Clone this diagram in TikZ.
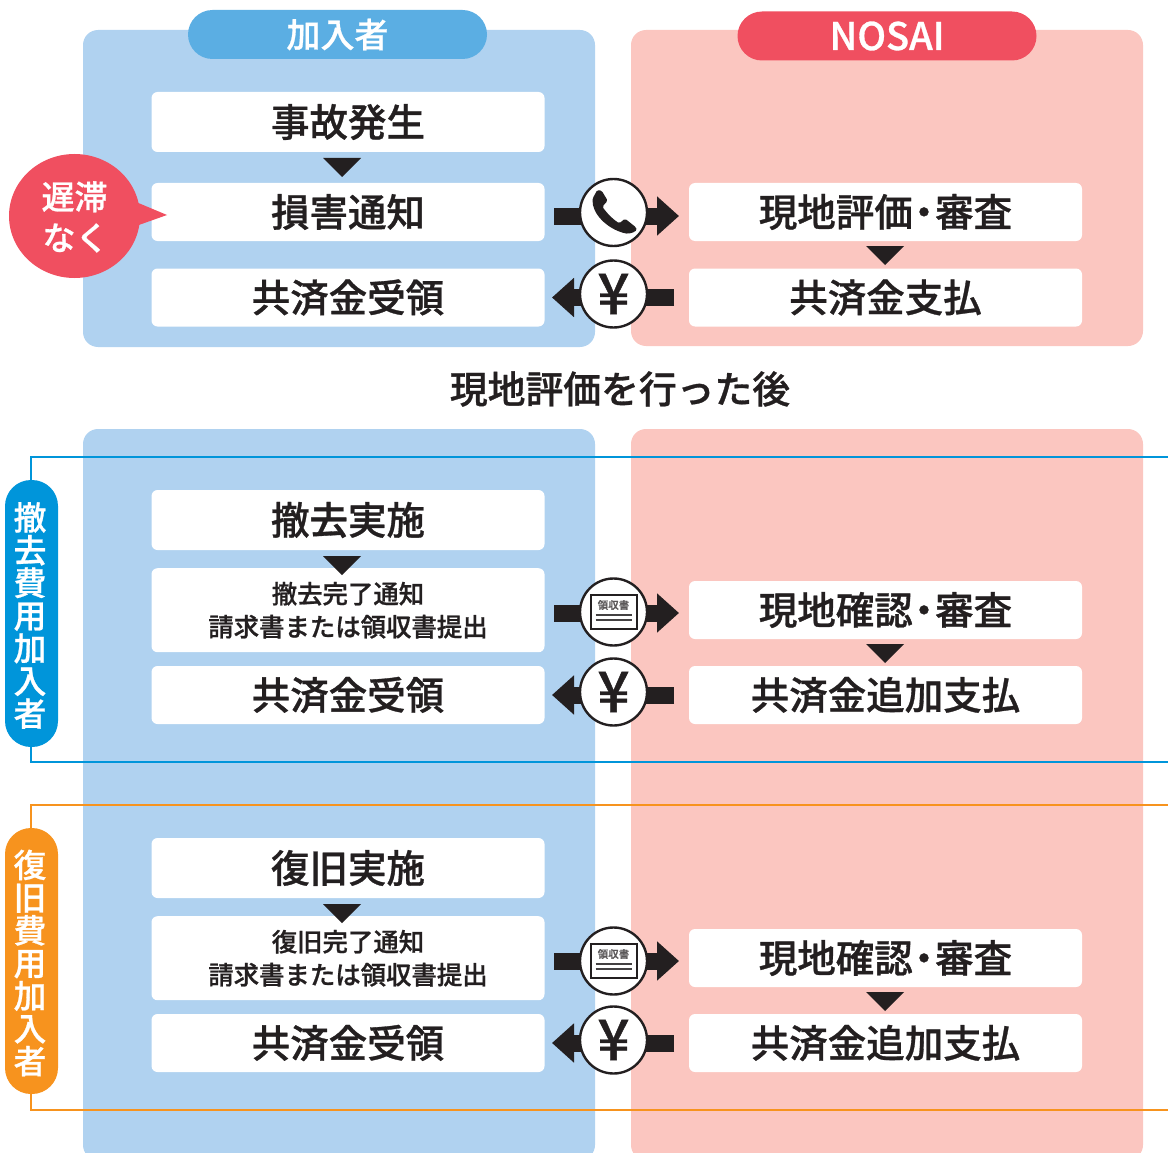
\documentclass[tikz,border=0pt]{standalone}
\usepackage{fontspec}
\setmainfont{Noto Sans CJK JP Medium}[FakeBold=0.8]
\usetikzlibrary{arrows.meta}
\definecolor{ink}{HTML}{231F20}
\definecolor{panelblue}{HTML}{B0D2F0}
\definecolor{panelpink}{HTML}{FBC6C0}
\definecolor{headblue}{HTML}{5BAEE3}
\definecolor{headred}{HTML}{F04F60}
\definecolor{lineblue}{HTML}{0095DA}
\definecolor{lineorange}{HTML}{F7931E}
\newcommand{\fs}[1]{\fontsize{#1}{#1}\selectfont}
\newcommand{\dotmid}{\kern-.21em・\kern-.21em}
\tikzset{
  x=1pt,y=-1pt,
  panel/.style={rounded corners=15pt},
  stepbox/.style={fill=white,rounded corners=6pt,inner sep=0pt,minimum width=393pt,text=ink,align=center,font=\fs{38.5}},
  smallbox/.style={stepbox,font=\fs{25.4},execute at begin node=\setlength{\baselineskip}{33pt}},
  down/.style={fill=ink},
  iconring/.style={circle,draw=ink,line width=2.4pt,fill=white,minimum size=67pt,inner sep=0pt,text=ink},
  flow/.style={draw=ink,line width=17pt,-{Triangle[length=22pt,width=38pt,fill=ink]}},
  framelabel/.style={rounded corners=26pt,minimum width=53pt,inner sep=0pt},
  labeltext/.style={text=white,inner sep=0pt,align=center,font=\fs{32.7},xshift=-1.5pt,yshift=-2pt},
  header/.style={rounded corners=24.5pt,minimum width=299pt,minimum height=49pt,text=white,inner sep=0pt},
}
\newcommand{\downtri}[2]{\fill[down] (#1-19,#2) -- (#1+19,#2) -- (#1,#2+19) -- cycle;}
% receipt icon centred on a ring: #1 = ring name
\newcommand{\receipt}[1]{%
  \begin{scope}[shift={(#1)}]
    \draw[ink,line width=2.3pt,fill=white] (-22.5,-17) rectangle (23.5,17);
    \draw[ink!85,line width=1.1pt] (-18,3) -- (18,3) (-18,8) -- (18,8);
    \node[text=ink!75,inner sep=0pt,font=\fs{10.5}] at (0,-7) {領収書};
  \end{scope}}
\begin{document}
\begin{tikzpicture}
\useasboundingbox (0,0) rectangle (1168,1153);
\clip (0,0) rectangle (1168,1153);
% panels
\fill[panelblue,panel] (83,30) rectangle (595,347);
\fill[panelpink,panel] (631,30) rectangle (1143,346);
\fill[panelblue,panel] (83,429) rectangle (595,1160);
\fill[panelpink,panel] (631,429) rectangle (1143,1160);
% headers
\node[header,fill=headblue,font=\fs{34}] (hb) at (337.5,34.5) {\raisebox{-1pt}{加入者}};
\node[header,fill=headred,font=\fs{38}] (hr) at (887,36) {\raisebox{-2pt}{NOSAI}};
% section 1
\node[stepbox,minimum height=60pt] (a1) at (348,122) {事故発生};
\node[stepbox,minimum height=58pt] (a2) at (348,212) {損害通知};
\node[stepbox,minimum height=58pt] (a3) at (348,297.5) {共済金受領};
\node[stepbox,minimum height=58pt] (b1) at (885.5,212) {現地評価\dotmid 審査};
\node[stepbox,minimum height=58pt] (b2) at (885.5,297.5) {共済金支払};
\downtri{342}{158}
\downtri{885}{246}
% bubble
\fill[headred] (74.5,216) ellipse [x radius=65.5,y radius=62];
\fill[headred] (136,202) -- (167,215) -- (136,226) -- cycle;
\node[inner sep=0pt,text=white,align=center,font=\fs{33},execute at begin node=\setlength{\baselineskip}{41pt}] (bubble) at (74.5,217) {遅滞\\\hspace*{2pt}なく};
\coordinate (s1a) at (554,216); \coordinate (e1a) at (679,216);
\coordinate (s1b) at (674,297.5); \coordinate (e1b) at (552,297.5);
\draw[flow] (s1a) -- (e1a);
\draw[flow] (s1b) -- (e1b);
\node[iconring] (tel) at (613.5,212.5) {};
\begin{scope}[shift={(540,170)},x=.3333pt,y=-.3333pt]
\fill[ink,rounded corners=1.5pt] (172,60) -- (185,62) -- (203,92) -- (187,110)
  .. controls (205,135) and (222,150) .. (238,160) -- (255,146) -- (288,172)
  .. controls (292,185) and (270,192) .. (255,190)
  .. controls (200,175) and (155,130) .. (158,85) -- cycle;
\end{scope}
\node[iconring,font=\fs{56}] (yen1) at (613.5,294) {¥};
% title
\node[inner sep=0pt,text=ink,font=\fs{37.8}] (title) at (620,389) {現地評価を行った後};
% frames
\coordinate (f1a) at (1170,457); \coordinate (f1b) at (31,457); \coordinate (f1c) at (31,762); \coordinate (f1d) at (1170,762);
\draw[lineblue,line width=2.3pt] (f1a) -- (f1b) -- (f1c) -- (f1d);
\coordinate (f2a) at (1170,805); \coordinate (f2b) at (31,805); \coordinate (f2c) at (31,1110); \coordinate (f2d) at (1170,1110);
\draw[lineorange,line width=2.3pt] (f2a) -- (f2b) -- (f2c) -- (f2d);
\node[framelabel,fill=lineblue,minimum height=267pt] (l1) at (31.5,613.5) {};
\node[labeltext] (l1t) at (l1.center) {撤\\去\\費\\用\\加\\入\\者};
\node[framelabel,fill=lineorange,minimum height=266pt] (l2) at (31.5,961) {};
\node[labeltext] (l2t) at (l2.center) {復\\旧\\費\\用\\加\\入\\者};
% section 2
\node[stepbox,minimum height=60pt] (c1) at (348,520) {撤去実施};
\node[smallbox,minimum height=84pt] (c2) at (348,610.2) {撤去完了通知\\請求書または領収書提出};
\node[stepbox,minimum height=58pt] (c3) at (348,695) {共済金受領};
\node[stepbox,minimum height=58pt] (d1) at (885.5,610) {現地確認\dotmid 審査};
\node[stepbox,minimum height=58pt] (d2) at (885.5,695) {共済金追加支払};
\downtri{342}{556}
\downtri{885}{644}
\coordinate (s2a) at (554,613); \coordinate (e2a) at (679,613);
\coordinate (s2b) at (674,695); \coordinate (e2b) at (552,695);
\draw[flow] (s2a) -- (e2a);
\draw[flow] (s2b) -- (e2b);
\node[iconring] (doc1) at (613.5,612) {};
\receipt{doc1}
\node[iconring,font=\fs{56}] (yen2) at (613.5,692) {¥};
% section 3
\node[stepbox,minimum height=60pt] (g1) at (348,868) {復旧実施};
\node[smallbox,minimum height=84pt] (g2) at (348,958.2) {復旧完了通知\\請求書または領収書提出};
\node[stepbox,minimum height=58pt] (g3) at (348,1043) {共済金受領};
\node[stepbox,minimum height=58pt] (h1) at (885.5,958) {現地確認\dotmid 審査};
\node[stepbox,minimum height=58pt] (h2) at (885.5,1043) {共済金追加支払};
\downtri{342}{904}
\downtri{885}{992}
\coordinate (s3a) at (554,961); \coordinate (e3a) at (679,961);
\coordinate (s3b) at (674,1043); \coordinate (e3b) at (552,1043);
\draw[flow] (s3a) -- (e3a);
\draw[flow] (s3b) -- (e3b);
\node[iconring] (doc2) at (613.5,961) {};
\receipt{doc2}
\node[iconring,font=\fs{56}] (yen3) at (613.5,1040) {¥};
\end{tikzpicture}
\end{document}
